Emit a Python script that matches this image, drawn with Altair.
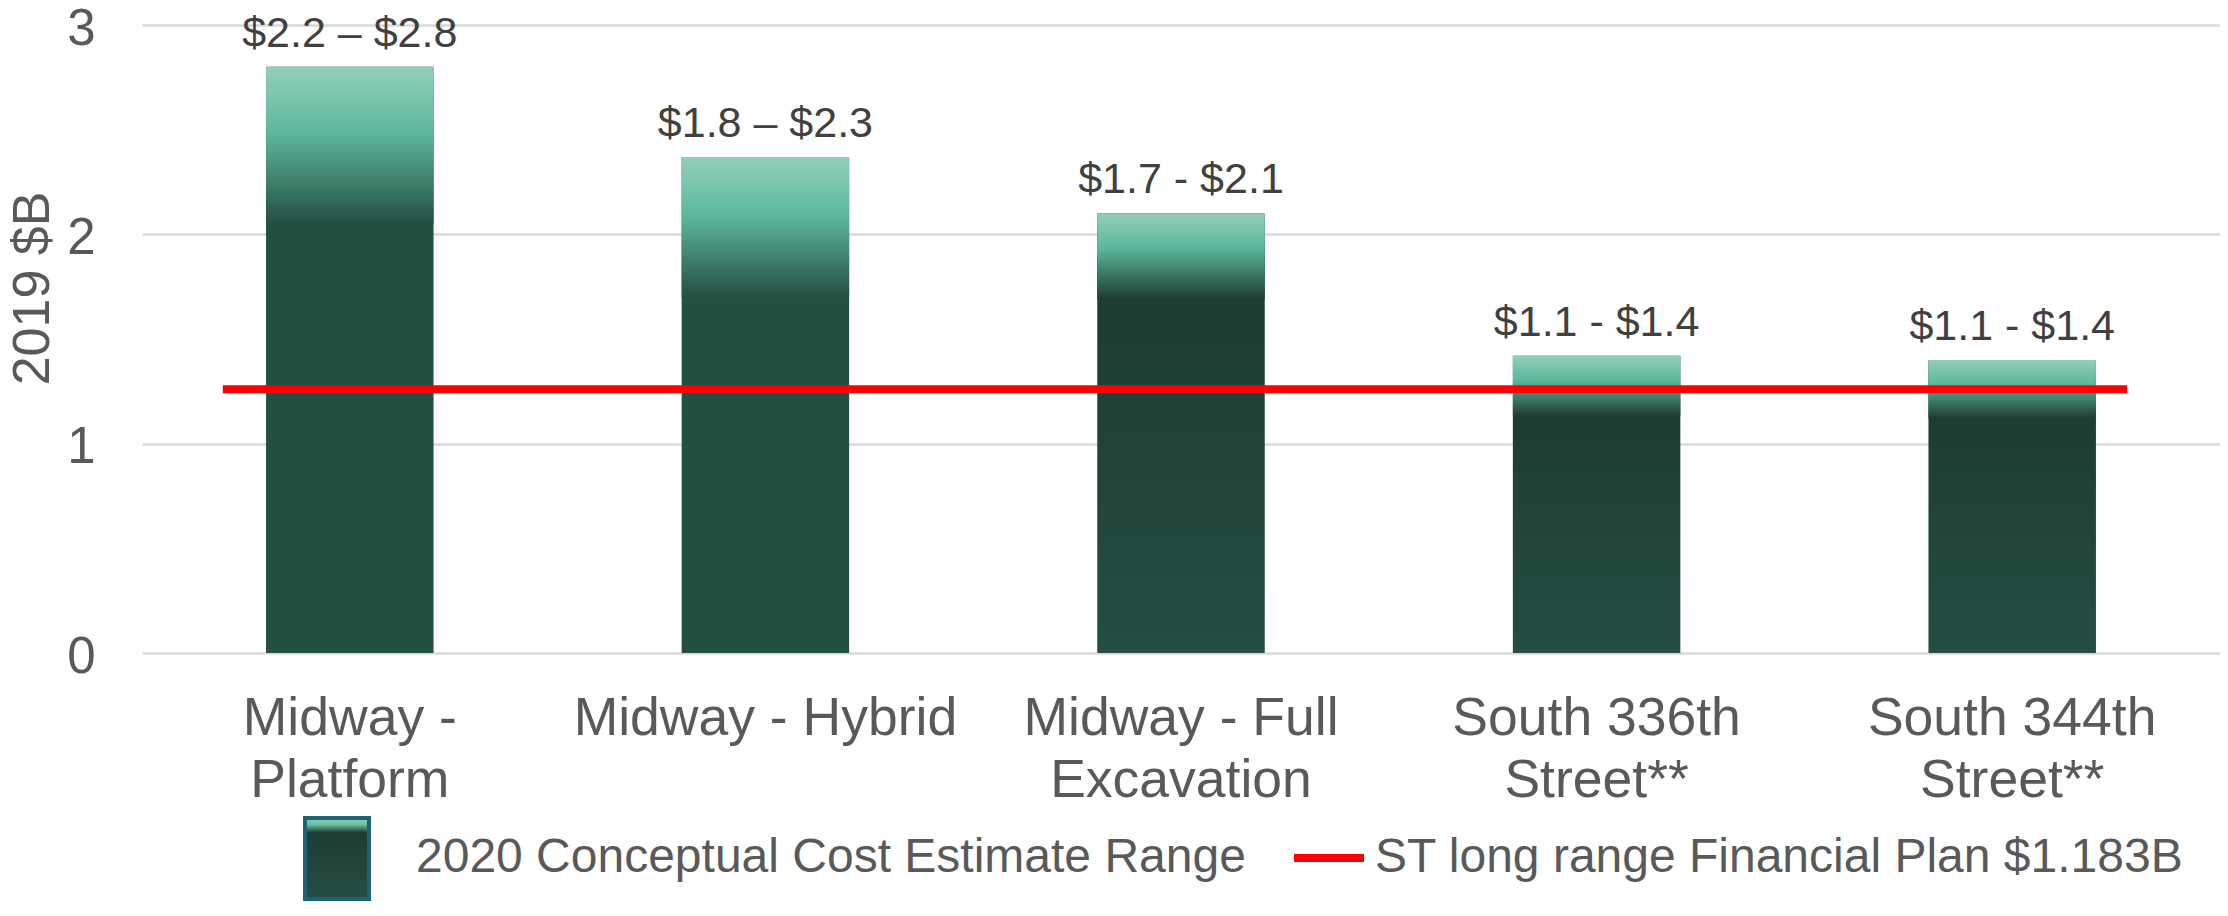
import json
import altair as alt
import pandas as pd

# ---------------- data ----------------
categories = [
    "Midway - Platform",
    "Midway - Hybrid",
    "Midway - Full Excavation",
    "South 336th Street**",
    "South 344th Street**",
]
range_low = [2.05, 1.70, 1.69, 1.13, 1.12]
range_high = [2.80, 2.37, 2.10, 1.42, 1.40]
range_labels = ["$2.2 – $2.8", "$1.8 – $2.3", "$1.7 - $2.1", "$1.1 - $1.4", "$1.1 - $1.4"]
label_lines = [
    ["Midway -", "Platform"],
    ["Midway - Hybrid"],
    ["Midway - Full", "Excavation"],
    ["South 336th", "Street**"],
    ["South 344th", "Street**"],
]
plan_value = 1.26
plan_span = [categories[0], categories[-1]]
legend_labels = ["2020 Conceptual Cost Estimate Range", "ST long range Financial Plan $1.183B"]
y_ticks = [0, 1, 2, 3]
darker_base = categories[2:]

FONT = "Liberation Sans"

df = pd.DataFrame({"category": categories, "low": range_low, "high": range_high, "label": range_labels})
df_a = df[~df["category"].isin(darker_base)]
df_b = df[df["category"].isin(darker_base)]
df_plan = pd.DataFrame({"start": [plan_span[0]], "end": [plan_span[1]], "value": [plan_value]})

# label expression for multi-line category labels
expr = "datum.value"
for cat, lines in reversed(list(zip(categories, label_lines))):
    expr = f"datum.value === {json.dumps(cat)} ? {json.dumps(lines)} : ({expr})"

x_axis = alt.Axis(
    title=None, domain=False, ticks=False, tickSize=0, grid=False,
    labelFontSize=53.5, labelColor="#595959", labelFont=FONT, labelPadding=39,
    labelBaseline="top", labelLineHeight=62, labelAngle=0, labelLimit=800,
    labelOverlap=False, labelExpr=expr,
)
x_scale = alt.Scale(domain=categories, paddingInner=0.597, paddingOuter=0.2985)

y_axis = alt.Axis(
    values=y_ticks, grid=True, gridColor="#d9d9d9", gridWidth=2.5,
    domain=False, ticks=False, tickSize=0,
    labelFontSize=51, labelColor="#595959", labelFont=FONT, labelPadding=47,
    labelOffset=4,
    title="2019 $B", titleFontSize=52, titleColor="#595959", titleFont=FONT,
    titleFontWeight="normal", titleX=-94, titleY=263, titleAlign="center",
    titleBaseline="alphabetic", titleAngle=270,
)
y_scale = alt.Scale(domain=[0, 3], nice=False)


def xe(field):
    return alt.X(f"{field}:N", scale=x_scale, axis=x_axis, sort=categories)


def ye(field):
    return alt.Y(f"{field}:Q", scale=y_scale, axis=y_axis)


def grad(stops):
    return alt.LinearGradient(
        gradient="linear",
        stops=[alt.GradientStop(color=c, offset=o) for o, c in stops],
        x1=0, x2=0, y1=0, y2=1,
    )


# full-height dark bars underneath, gradient range segment on top
base_a = alt.Chart(df_a).mark_bar(color="#244f43").encode(x=xe("category"), y=ye("high"))
base_b = alt.Chart(df_b).mark_bar(
    color=grad([(0, "#1b3930"), (0.2, "#1d3c33"), (1, "#244e43")])
).encode(x=xe("category"), y=ye("high"))

range_a = alt.Chart(df_a).mark_bar(
    color=grad([(0, "#93cfbb"), (0.42, "#5cb89c"), (1, "#244f43")])
).encode(x=xe("category"), y=ye("high"), y2="low:Q")
range_b = alt.Chart(df_b).mark_bar(
    color=grad([(0, "#93cfbb"), (0.4, "#5cb89c"), (1, "#1d3c33")])
).encode(x=xe("category"), y=ye("high"), y2="low:Q")

plan_line = alt.Chart(df_plan).mark_rule(
    color="#ff0000", strokeWidth=8, xOffset=-127, x2Offset=115
).encode(x=xe("start"), x2="end:N", y=ye("value"))

bar_text = alt.Chart(df).mark_text(
    dy=-20, baseline="alphabetic", fontSize=43, color="#404040", font=FONT
).encode(x=xe("category"), y=ye("high"), text="label:N")

# ---------------- legend ----------------
leg1 = pd.DataFrame({"label": [legend_labels[0]]})
leg2 = pd.DataFrame({"label": [legend_labels[1]]})

leg_symbol = alt.Chart(leg1).mark_rect(
    color=grad([(0, "#88cfb5"), (0.08, "#6fbfa3"), (0.18, "#1e3d34"), (1, "#244e43")]),
    stroke="#1f6274", strokeWidth=4,
).encode(x=alt.value(163), x2=alt.value(227), y=alt.value(793), y2=alt.value(874))

leg_text1 = alt.Chart(leg1).mark_text(
    align="left", baseline="alphabetic", fontSize=48, color="#595959", font=FONT
).encode(x=alt.value(274), y=alt.value(847), text="label:N")

leg_line = alt.Chart(leg2).mark_rule(color="#ff0000", strokeWidth=8).encode(
    x=alt.value(1152), x2=alt.value(1222), y=alt.value(833)
)

leg_text2 = alt.Chart(leg2).mark_text(
    align="left", baseline="alphabetic", fontSize=48, color="#595959", font=FONT
).encode(x=alt.value(1233), y=alt.value(847), text="label:N")

chart = alt.layer(
    base_a, base_b, range_a, range_b, plan_line, bar_text,
    leg_symbol, leg_text1, leg_line, leg_text2,
).properties(
    width=2078, height=628,
    autosize=alt.AutoSizeParams(type="none"),
    padding={"left": 134, "top": 17, "right": 0, "bottom": 249},
).configure_view(strokeWidth=0)

chart.save("out.html", embed_options={"renderer": "svg", "actions": False})
